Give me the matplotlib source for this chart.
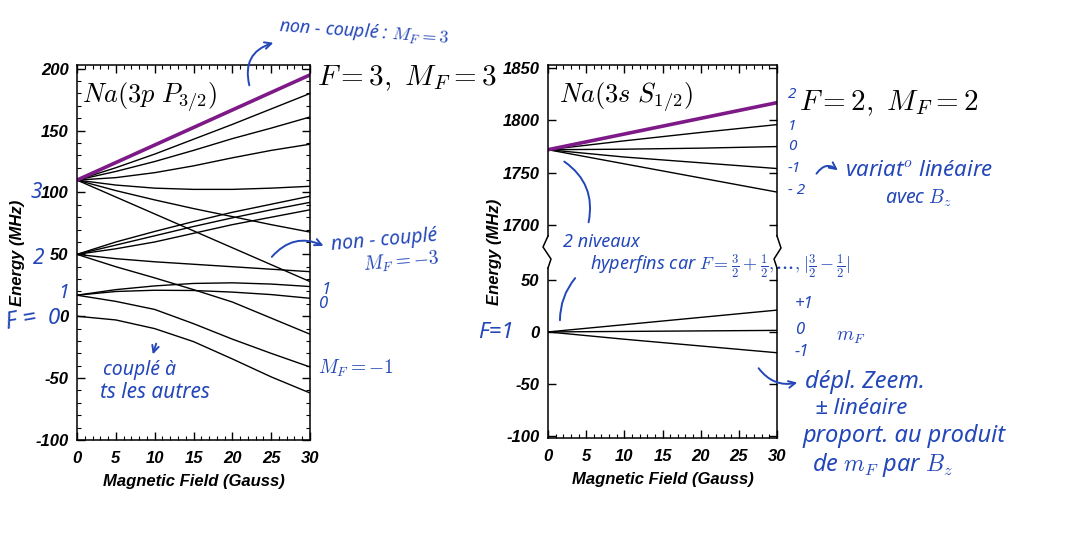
import matplotlib
matplotlib.use("Agg")
import matplotlib.pyplot as plt
from matplotlib.ticker import MultipleLocator

W, H = 1067, 538

# Na(3p P3/2): energies (MHz) read at these fields (G)
B = [0, 5, 10, 15, 20, 25, 30]
B_lin = [0, 30]
p_f3_m3 = [110, 195]
p_f3_m2 = [110, 120, 131, 143, 155, 167.5, 180]
p_f3_m1 = [110, 117, 125, 134, 143.5, 152, 161]
p_f3_m0 = [110, 112, 116, 121.5, 128, 134, 139]
p_f3_mm1 = [110, 106, 103.5, 102.5, 102.5, 103.5, 105]
p_f3_mm2 = [110, 101.5, 94, 87, 80.5, 74, 68]
p_f3_mm3 = [110, 28]
p_f2_a = [50, 60, 68.5, 76.5, 84, 90.5, 97]
p_f2_b = [50, 57.5, 65, 72.5, 79.5, 86, 92]
p_f2_c = [50, 54.5, 60, 67, 74, 80, 86]
p_f2_d = [50, 46.5, 44, 42, 40, 38, 36]
p_f2_e = [50, 40, 31, 21.5, 11.5, -1.5, -14.5]
p_f1_a = [17, 21.5, 24.5, 26.5, 27, 26, 24]
p_f1_b = [17, 20, 21, 20.8, 19.5, 17.5, 14.5]
p_f1_c = [17, 12, 5.5, -6, -18.5, -30, -41]
p_f0 = [0, -3, -10, -20.5, -34.5, -49, -62]

# Na(3s S1/2)
B_s = [0, 10, 20, 30]
s_f2_m2 = [1772, 1817]
s_f2_m1 = [1772, 1780.5, 1788.5, 1796]
s_f2_m0 = [1772, 1772.5, 1773.5, 1775]
s_f2_mm1 = [1772, 1765, 1759.5, 1754]
s_f2_mm2 = [1772, 1758.5, 1745, 1731.5]
s_f1_p1 = [0, 7, 14, 21]
s_f1_0 = [0, 0.5, 1, 1.5]
s_f1_m1 = [0, -7, -13.5, -20]

PURPLE = "#7d1a88"
BLUE = "#2347b8"

plt.rcParams["font.family"] = "Liberation Sans"
plt.rcParams["font.weight"] = "bold"
plt.rcParams["font.style"] = "italic"
plt.rcParams["font.size"] = 12
plt.rcParams["axes.labelweight"] = "bold"
plt.rcParams["mathtext.fontset"] = "cm"
plt.rcParams["axes.unicode_minus"] = False
plt.rcParams["axes.linewidth"] = 1.1

fig = plt.figure(figsize=(W / 100, H / 100), dpi=100)


def box(x0, y0, x1, y1):
    return [x0 / W, 1 - y1 / H, (x1 - x0) / W, (y1 - y0) / H]


def style(ax, top=True, bottom=True):
    ax.tick_params(which="both", direction="in", top=top, bottom=bottom,
                   right=True, labelsize=12, pad=6)
    ax.tick_params(which="major", length=6, width=1)
    ax.tick_params(which="minor", length=3, width=0.8)
    ax.tick_params(axis="x", pad=8)
    ax.xaxis.set_major_locator(MultipleLocator(5))
    ax.xaxis.set_minor_locator(MultipleLocator(1))


# left panel
ax1 = fig.add_axes(box(77, 65, 310, 440))
ax1.set_xlim(0, 30)
ax1.set_ylim(-100, 203)
style(ax1)
ax1.yaxis.set_major_locator(MultipleLocator(50))
ax1.yaxis.set_minor_locator(MultipleLocator(10))
for ys in [p_f3_m2, p_f3_m1, p_f3_m0, p_f3_mm1, p_f3_mm2, p_f2_a, p_f2_b,
           p_f2_c, p_f2_d, p_f2_e, p_f1_a, p_f1_b, p_f1_c, p_f0]:
    ax1.plot(B, ys, color="k", lw=1.0)
ax1.plot(B_lin, p_f3_mm3, color="k", lw=1.0)
ax1.plot(B_lin, p_f3_m3, color=PURPLE, lw=2.6)
ax1.set_xlabel("Magnetic Field (Gauss)", labelpad=6)
ax1.set_ylabel("Energy (MHz)")
ax1.yaxis.set_label_coords(-0.225, 0.5)

# right panel, broken y axis
ax2 = fig.add_axes(box(548, 65, 777, 236))
ax2.set_xlim(0, 30)
ax2.set_ylim(1689.5, 1853)
style(ax2, bottom=False)
ax2.tick_params(which="both", labelbottom=False)
ax2.spines["bottom"].set_visible(False)
ax2.yaxis.set_major_locator(MultipleLocator(50))
for ys in [s_f2_m1, s_f2_m0, s_f2_mm1, s_f2_mm2]:
    ax2.plot(B_s, ys, color="k", lw=1.0)
ax2.plot(B_lin, s_f2_m2, color=PURPLE, lw=2.6)

ax3 = fig.add_axes(box(548, 268, 777, 438))
ax3.set_xlim(0, 30)
ax3.set_ylim(-102, 61.5)
style(ax3, top=False)
ax3.spines["top"].set_visible(False)
ax3.yaxis.set_major_locator(MultipleLocator(50))
for ys in [s_f1_p1, s_f1_0, s_f1_m1]:
    ax3.plot(B_s, ys, color="k", lw=1.0)
ax3.set_xlabel("Magnetic Field (Gauss)", labelpad=6)

# overlay in pixel coordinates for labels and notes
ov = fig.add_axes([0, 0, 1, 1])
ov.set_xlim(0, W)
ov.set_ylim(H, 0)
ov.axis("off")

ov.plot([548, 543, 551, 548], [236, 247, 259, 268], color="k", lw=1.1)
ov.plot([777, 781, 774, 777], [236, 248, 259, 268], color="k", lw=1.1)
ov.text(494, 252, "Energy (MHz)", rotation=90, ha="center", va="center",
        weight="bold")

ov.text(82, 97, r"$Na(3p\ P_{3/2})$", fontsize=19, va="center")
ov.text(317, 78, r"$F=3,\ M_F=3$", fontsize=21, va="center")
ov.text(559, 97, r"$Na(3s\ S_{1/2})$", fontsize=19, va="center")
ov.text(799, 103, r"$F=2,\ M_F=2$", fontsize=21, va="center")


def hw(x, y, s, size=13, rot=0):
    ov.text(x, y, s, color=BLUE, fontsize=size, rotation=rot,
            family=["Noto Sans", "DejaVu Sans"], style="italic",
            weight="normal", ha="left", va="center")


def curve(p0, p1, rad, head=True):
    ov.annotate("", xy=p1, xytext=p0,
                arrowprops=dict(arrowstyle="->" if head else "-", color=BLUE,
                                lw=1.4, connectionstyle=f"arc3,rad={rad}"))


# notes on left panel
hw(278, 32, r"non - couplé : $M_F = 3$", 13, rot=-4)
curve((250, 88), (276, 42), -0.5)
hw(31, 193, "3", 15)
hw(33, 259, "2", 15)
hw(58, 293, "1", 14)
hw(48, 319, "0", 16)
hw(4, 320, "F =", 17, rot=10)
hw(330, 240, "non - couplé", 14, rot=5)
hw(362, 262, r"$M_F = -3$", 14, rot=5)
curve((270, 259), (326, 247), -0.4)
hw(322, 290, "1", 12)
hw(318, 304, "0", 12)
hw(318, 368, r"$M_F = -1$", 14)
hw(103, 370, "couplé à", 14)
hw(100, 393, "ts les autres", 15)
curve((157, 341), (152, 357), 0)

# notes on right panel
hw(788, 94, "2", 11)
hw(788, 127, "1", 11)
hw(788, 147, "0", 11)
hw(788, 168, "-1", 11)
hw(788, 191, "- 2", 11)
curve((815, 176), (840, 172), -0.6)
hw(845, 171, "variat$^{o}$ linéaire", 16)
hw(885, 198, r"avec $B_z$", 14)
curve((562, 160), (588, 225), -0.35, head=False)
hw(563, 242, "2 niveaux", 13)
hw(590, 266, r"hyperfins car $F=\frac{3}{2}+\frac{1}{2},\ldots,|\frac{3}{2}-\frac{1}{2}|$", 13)
curve((560, 323), (577, 276), -0.2, head=False)
hw(478, 333, "F=1", 16)
hw(795, 304, "+1", 12)
hw(795, 330, "0", 12)
hw(836, 336, r"$m_F$", 14)
hw(795, 352, "-1", 12)
curve((757, 366), (800, 382), 0.35)
hw(805, 382, "dépl. Zeem.", 17)
hw(815, 409, "± linéaire", 16)
hw(803, 436, "proport. au produit", 17)
hw(812, 465, r"de $m_F$ par $B_z$", 17)

fig.savefig("out.png", dpi=100)
